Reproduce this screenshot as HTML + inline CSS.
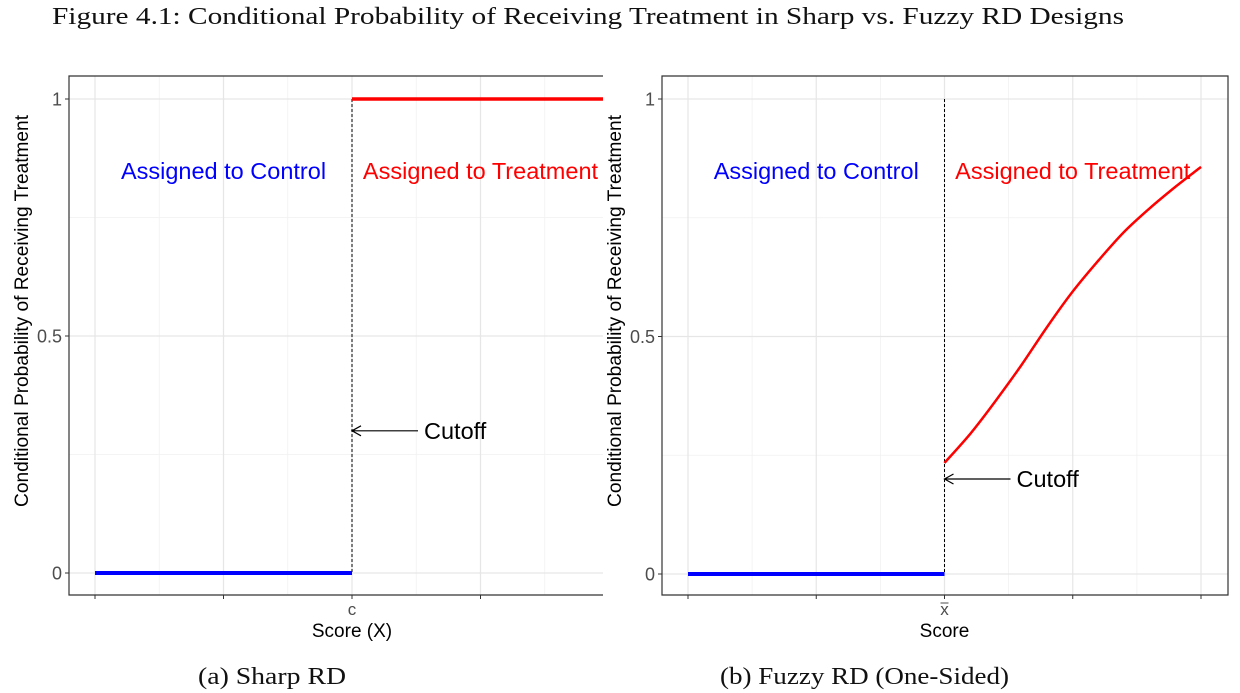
<!DOCTYPE html>
<html><head><meta charset="utf-8">
<style>
body{margin:0;background:#fff;width:1240px;height:693px;overflow:hidden}
svg{display:block}
text{font-family:"Liberation Sans",sans-serif}
.serif{font-family:"Liberation Serif",serif}
</style></head>
<body>
<svg id="fig" width="1240" height="693" viewBox="0 0 1240 693">
<text class="serif" x="52" y="24" font-size="24" textLength="1072" lengthAdjust="spacingAndGlyphs" fill="#111">Figure 4.1: Conditional Probability of Receiving Treatment in Sharp vs. Fuzzy RD Designs</text>
<text class="serif" x="198" y="684" font-size="24" textLength="148" lengthAdjust="spacingAndGlyphs" fill="#111">(a) Sharp RD</text>
<text class="serif" x="720" y="684" font-size="24" textLength="289" lengthAdjust="spacingAndGlyphs" fill="#111">(b) Fuzzy RD (One-Sided)</text>
</svg>
<script>
// data
const yTicks = [0, 0.5, 1];
const yTickLabels = ["0", "0.5", "1"];
const yMinor = [0.25, 0.75];
const xTicks = [-1, -0.5, 0, 0.5, 1];
const xMinor = [-0.75, -0.25, 0.25, 0.75];
const sharpControlX = [-1, 0];
const sharpControlY = [0, 0];
const sharpTreatX = [0, 1];
const sharpTreatY = [1, 1];
const fuzzyControlX = [-1, 0];
const fuzzyControlY = [0, 0];
const fuzzyTreatX = [0, 0.1, 0.2, 0.3, 0.4, 0.5, 0.6, 0.7, 0.8, 0.9, 1.0];
const fuzzyTreatY = [0.234, 0.295, 0.365, 0.44, 0.52, 0.595, 0.66, 0.72, 0.77, 0.815, 0.857];
const sharpCutoffY = 0.3;
const fuzzyCutoffY = 0.2;

const NS = "http://www.w3.org/2000/svg";
const svg = document.getElementById("fig");
function mk(tag, attrs, parent){
  const e = document.createElementNS(NS, tag);
  for (const k in attrs) e.setAttribute(k, attrs[k]);
  (parent||svg).appendChild(e);
  return e;
}

function smoothPath(pts){
  if (pts.length < 3) return pts.map((p, i) => (i ? "L" : "M") + p[0].toFixed(1) + "," + p[1].toFixed(1)).join("");
  let d = "M" + pts[0][0].toFixed(1) + "," + pts[0][1].toFixed(1);
  for (let i = 0; i < pts.length - 1; i++){
    const p0 = pts[Math.max(0, i - 1)], p1 = pts[i], p2 = pts[i + 1], p3 = pts[Math.min(pts.length - 1, i + 2)];
    const c1 = [p1[0] + (p2[0] - p0[0]) / 6, p1[1] + (p2[1] - p0[1]) / 6];
    const c2 = [p2[0] - (p3[0] - p1[0]) / 6, p2[1] - (p3[1] - p1[1]) / 6];
    d += "C" + c1.map(v => v.toFixed(1)).join(",") + " " + c2.map(v => v.toFixed(1)).join(",") + " " + p2[0].toFixed(1) + "," + p2[1].toFixed(1);
  }
  return d;
}

function panel(p){
  const g = mk("g", {});
  
  
  const sx = v => p.x0 + (v + 1) / 2 * (p.x1 - p.x0);
  const sy = v => p.y0 - v * (p.y0 - p.y1);
  const clipId = p.name + "-clip";
  const cp = mk("clipPath", {id: clipId}, g);
  mk("rect", {x: p.L, y: p.T, width: p.R - p.L, height: p.B - p.T}, cp);
  const inner = mk("g", {"clip-path": "url(#" + clipId + ")"}, g);
  yMinor.forEach(v => mk("line", {x1: p.L, x2: p.R, y1: sy(v), y2: sy(v), stroke: "#f0f0f0", "stroke-width": 0.8}, inner));
  xMinor.forEach(v => mk("line", {x1: sx(v), x2: sx(v), y1: p.T, y2: p.B, stroke: "#f0f0f0", "stroke-width": 0.8}, inner));
  yTicks.forEach(v => {
    const l = mk("line", {x1: p.L, x2: p.R, y1: sy(v), y2: sy(v), stroke: "#e6e6e6", "stroke-width": 1.2}, inner);
    
    
  });
  xTicks.forEach(v => {
    const l = mk("line", {x1: sx(v), x2: sx(v), y1: p.T, y2: p.B, stroke: "#e6e6e6", "stroke-width": 1.2}, inner);
    
    
  });
  const cl = mk("line", {x1: sx(0), x2: sx(0), y1: sy(1), y2: sy(0), stroke: "#000", "stroke-width": 1, "stroke-dasharray": "3,2"}, inner);
  
  
  const line = (xs, ys, col, w, name) => {
    const d = smoothPath(xs.map((x, i) => [sx(x), sy(ys[i])]));
    const e = mk("path", {d: d, fill: "none", stroke: col, "stroke-width": w}, inner);
    
    
  };
  line(p.cx, p.cy, "#0000ff", 4, "control-line");
  line(p.tx, p.ty, "#ff0000", p.tw, "treatment-line");
  const t1 = mk("text", {x: sx(-0.5), y: 179, "font-size": 23.5, fill: "#0000ff", "text-anchor": "middle"}, g);
  t1.textContent = "Assigned to Control";
  
  
  const t2 = mk("text", {x: sx(0.5), y: 179, "font-size": 23.5, fill: "#ff0000", "text-anchor": "middle"}, g);
  t2.textContent = "Assigned to Treatment";
  
  
  const ay = sy(p.cut);
  const ar = mk("path", {d: "M" + (sx(0) + 66) + "," + ay + "L" + sx(0) + "," + ay + "M" + (sx(0) + 9) + "," + (ay - 5) + "L" + sx(0) + "," + ay + "L" + (sx(0) + 9) + "," + (ay + 5), fill: "none", stroke: "#000", "stroke-width": 1.2}, g);
  
  
  const ct = mk("text", {x: sx(0) + 72, y: ay + 8, "font-size": 23.5, fill: "#000"}, g);
  ct.textContent = "Cutoff";
  
  
  const fr = mk("path", {d: p.frame, fill: "none", stroke: "#333", "stroke-width": 1.2}, g);
  
  
  yTicks.forEach((v, i) => {
    mk("line", {x1: p.L - 4, x2: p.L, y1: sy(v), y2: sy(v), stroke: "#333", "stroke-width": 1}, g);
    const t = mk("text", {x: p.L - 7, y: sy(v) + 6.5, "font-size": 18, fill: "#4d4d4d", "text-anchor": "end"}, g);
    t.textContent = yTickLabels[i];
    
    
  });
  xTicks.forEach(v => { if (sx(v) <= p.R) mk("line", {x1: sx(v), x2: sx(v), y1: p.B, y2: p.B + 4, stroke: "#333", "stroke-width": 1}, g); });
  const xl = mk("text", {x: sx(0), y: p.B + 20, "font-size": 17, fill: "#4d4d4d", "text-anchor": "middle"}, g);
  xl.textContent = p.xlab;
  
  
  if (p.bar) mk("line", {x1: sx(0) - 4, x2: sx(0) + 4, y1: p.B + 8, y2: p.B + 8, stroke: "#4d4d4d", "stroke-width": 1}, g);
  const xt = mk("text", {x: sx(0), y: p.B + 42, "font-size": 19, fill: "#000", "text-anchor": "middle"}, g);
  xt.textContent = p.xtitle;
  
  
  const yt = mk("text", {x: 0, y: 0, "font-size": 19, fill: "#000", "text-anchor": "middle", textLength: 392, lengthAdjust: "spacingAndGlyphs", transform: "translate(" + p.ytx + ",311) rotate(-90)"}, g);
  yt.textContent = "Conditional Probability of Receiving Treatment";
  
  
}

panel({name: "sharp-rd-panel", L: 69, R: 603, T: 76, B: 595, x0: 95, x1: 609, y0: 573, y1: 99,
  cx: sharpControlX, cy: sharpControlY, tx: sharpTreatX, ty: sharpTreatY, tw: 3.5, cut: sharpCutoffY,
  frame: "M603,76L69,76L69,595L603,595", xlab: "c", bar: false, xtitle: "Score (X)", ytx: 28});
panel({name: "fuzzy-rd-panel", L: 662, R: 1228, T: 76, B: 595, x0: 688, x1: 1201, y0: 574, y1: 99,
  cx: fuzzyControlX, cy: fuzzyControlY, tx: fuzzyTreatX, ty: fuzzyTreatY, tw: 2.5, cut: fuzzyCutoffY,
  frame: "M662,76L1228,76L1228,595L662,595Z", xlab: "x", bar: true, xtitle: "Score", ytx: 621});
</script>
</body></html>
